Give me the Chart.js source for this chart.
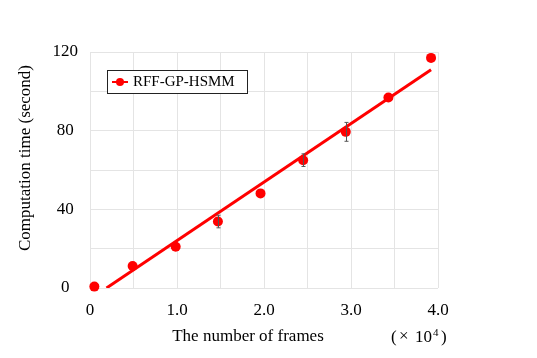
<!DOCTYPE html>
<html>
<head>
<meta charset="utf-8">
<script src="https://cdn.jsdelivr.net/npm/chart.js@4.4.1/dist/chart.umd.min.js"></script>
<style>
html,body{margin:0;padding:0;background:#fff;}
#wrap{width:537px;height:358px;}
</style>
</head>
<body>
<div id="wrap"><canvas id="c" width="537" height="358"></canvas></div>
<script>
// Data (x in units of 10^4 frames, y in seconds)
const framesX = [0.05, 0.49, 0.985, 1.47, 1.96, 2.45, 2.94, 3.43, 3.92];
const timeY   = [0.7, 11.2, 21.0, 33.8, 48.1, 65.0, 79.4, 96.9, 117.0];
const errY    = [0, 0, 0, 3.2, 0, 3.2, 4.8, 0, 0];
const fitX    = [0.19, 3.92];
const fitY    = [0, 111];
const xTicks  = [0, 1, 2, 3, 4];
const yTicks  = [0, 40, 80, 120];
const seriesName = 'RFF-GP-HSMM';
const xTitle = 'The number of frames';
const yTitle = 'Computation time (second)';

const FONT = "'Liberation Serif','Times New Roman',serif";
const RED = '#ff0000';

const overlay = {
  id: 'overlay',
  afterDatasetsDraw(chart) {
    const ctx = chart.ctx;
    const xs = chart.scales.x, ys = chart.scales.y;
    // error bars
    ctx.save();
    ctx.strokeStyle = '#555';
    ctx.lineWidth = 1;
    framesX.forEach((x, i) => {
      if (!errY[i]) return;
      const px = Math.round(xs.getPixelForValue(x)) + 0.5;
      const y1 = ys.getPixelForValue(timeY[i] + errY[i]);
      const y2 = ys.getPixelForValue(timeY[i] - errY[i]);
      ctx.beginPath();
      ctx.moveTo(px, y1); ctx.lineTo(px, y2);
      ctx.moveTo(px - 2, y1); ctx.lineTo(px + 2, y1);
      ctx.moveTo(px - 2, y2); ctx.lineTo(px + 2, y2);
      ctx.stroke();
    });
    ctx.restore();
  },
  afterDraw(chart) {
    const ctx = chart.ctx;
    ctx.save();
    ctx.fillStyle = '#000';
    // x title
    ctx.font = '17px ' + FONT;
    ctx.textAlign = 'center';
    ctx.textBaseline = 'middle';
    ctx.fillText(xTitle, 248, 337);
    // (x10^4)
    ctx.textAlign = 'left';
    ctx.textBaseline = 'alphabetic';
    const base = 342;
    ctx.font = '17px ' + FONT;
    ctx.fillText('(', 391, base);
    ctx.font = '17px ' + FONT;
    ctx.fillText('\u00d7', 399, base - 1);
    ctx.font = '17px ' + FONT;
    ctx.fillText('10', 415, base);
    ctx.font = '11px ' + FONT;
    ctx.fillText('4', 433, base - 6);
    ctx.font = '17px ' + FONT;
    ctx.fillText(')', 441, base);
    // y title
    ctx.save();
    ctx.translate(26, 158);
    ctx.rotate(-Math.PI / 2);
    ctx.textAlign = 'center';
    ctx.textBaseline = 'middle';
    ctx.font = '17px ' + FONT;
    ctx.fillText(yTitle, 0, 0);
    ctx.restore();
    // legend box
    ctx.fillStyle = '#fff';
    ctx.fillRect(107.5, 70.5, 140, 23);
    ctx.strokeStyle = '#222';
    ctx.lineWidth = 1;
    ctx.strokeRect(107.5, 70.5, 140, 23);
    ctx.strokeStyle = RED;
    ctx.lineWidth = 2;
    ctx.beginPath();
    ctx.moveTo(112, 82); ctx.lineTo(128, 82);
    ctx.stroke();
    ctx.fillStyle = RED;
    ctx.beginPath();
    ctx.arc(120, 82, 4, 0, Math.PI * 2);
    ctx.fill();
    ctx.fillStyle = '#000';
    ctx.font = '15px ' + FONT;
    ctx.textAlign = 'left';
    ctx.textBaseline = 'middle';
    ctx.fillText(seriesName, 133, 82.5);
    ctx.restore();
  }
};

new Chart(document.getElementById('c'), {
  type: 'scatter',
  data: {
    datasets: [
      {
        label: 'fit',
        data: fitX.map((x, i) => ({x, y: fitY[i]})),
        showLine: true,
        borderColor: RED,
        borderWidth: 3,
        pointRadius: 0,
        order: 2
      },
      {
        label: seriesName,
        data: framesX.map((x, i) => ({x, y: timeY[i]})),
        showLine: false,
        backgroundColor: RED,
        borderColor: RED,
        pointRadius: 5,
        pointBorderWidth: 0,
        clip: false,
        order: 1
      }
    ]
  },
  options: {
    responsive: false,
    animation: false,
    devicePixelRatio: 1,
    layout: { padding: { top: 52, right: 99, left: 0, bottom: 0 } },
    plugins: { legend: { display: false }, tooltip: { enabled: false } },
    scales: {
      x: {
        type: 'linear', min: 0, max: 4,
        afterFit: s => { s.height = 70; },
        afterBuildTicks: s => { s.ticks = []; for (let v = 0; v <= 4; v += 0.5) s.ticks.push({value: v}); },
        grid: { color: '#e4e4e4', drawTicks: false, lineWidth: 1 },
        border: { display: false },
        ticks: {
          padding: 12,
          color: '#000',
          font: { family: FONT, size: 17 },
          autoSkip: false,
          maxRotation: 0,
          callback: v => xTicks.includes(v) ? (v === 0 ? '0' : v.toFixed(1)) : ''
        }
      },
      y: {
        type: 'linear', min: 0, max: 120,
        afterFit: s => { s.width = 90; },
        afterBuildTicks: s => { s.ticks = []; for (let v = 0; v <= 120; v += 20) s.ticks.push({value: v}); },
        grid: { color: '#e4e4e4', drawTicks: false, lineWidth: 1 },
        border: { display: false },
        ticks: {
          padding: 12,
          crossAlign: 'center',
          color: '#000',
          font: { family: FONT, size: 17 },
          autoSkip: false,
          callback: v => yTicks.includes(v) ? String(v) : ''
        }
      }
    }
  },
  plugins: [overlay]
});
</script>
</body>
</html>
